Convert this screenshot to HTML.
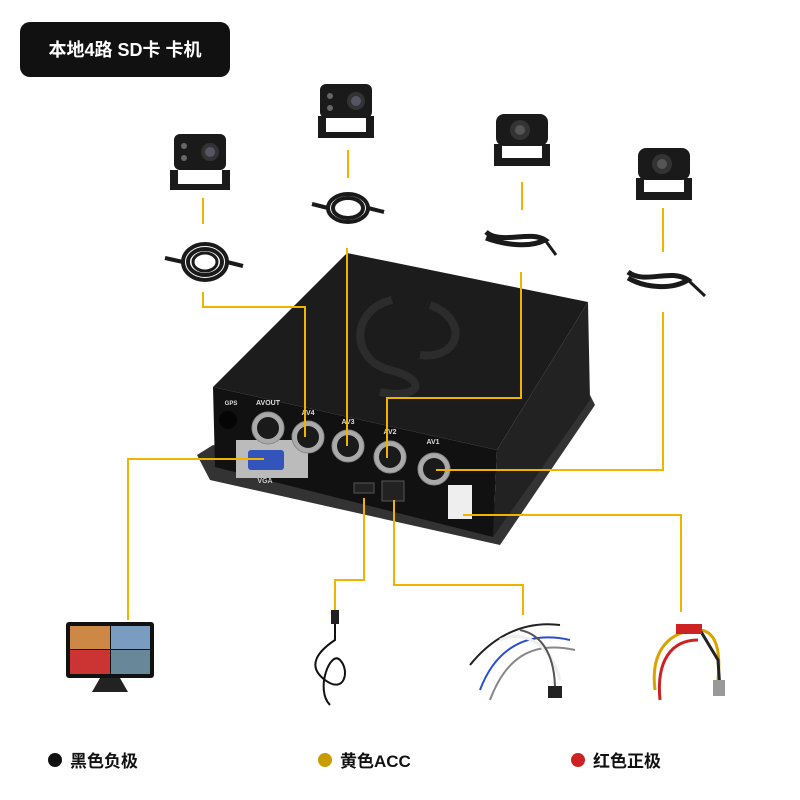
<!DOCTYPE html>
<html><head><meta charset="utf-8"><style>
html,body{margin:0;padding:0;background:#fff;}
svg{display:block;}
text{font-family:"Liberation Sans","Noto Sans CJK SC",sans-serif;}
</style></head><body>
<svg width="800" height="800" viewBox="0 0 800 800" xmlns="http://www.w3.org/2000/svg">
<rect width="800" height="800" fill="#fff"/>
<rect x="20" y="22" width="210" height="55" rx="10" fill="#111"/>
<text x="125" y="56" fill="#fff" font-size="18" font-weight="bold" text-anchor="middle">本地4路 SD卡 卡机</text>

<g fill="#1a1a1a">
 <g transform="translate(200,160)">
  <path d="M-30 30 L-30 10 L-22 10 L-22 24 L22 24 L22 10 L30 10 L30 30 Z"/>
  <rect x="-26" y="-26" width="52" height="36" rx="6"/>
  <circle cx="10" cy="-8" r="9" fill="#333"/><circle cx="10" cy="-8" r="5" fill="#556"/>
  <circle cx="-16" cy="-14" r="3" fill="#666"/><circle cx="-16" cy="-2" r="3" fill="#666"/>
 </g>
 <g transform="translate(346,108)">
  <path d="M-28 30 L-28 8 L-20 8 L-20 24 L20 24 L20 8 L28 8 L28 30 Z"/>
  <rect x="-26" y="-24" width="52" height="34" rx="6"/>
  <circle cx="10" cy="-7" r="9" fill="#333"/><circle cx="10" cy="-7" r="5" fill="#556"/>
  <circle cx="-16" cy="-12" r="3" fill="#666"/><circle cx="-16" cy="0" r="3" fill="#666"/>
 </g>
 <g transform="translate(522,138)">
  <path d="M-28 28 L-28 6 L-20 6 L-20 20 L20 20 L20 6 L28 6 L28 28 Z"/>
  <rect x="-26" y="-24" width="52" height="32" rx="8"/>
  <circle cx="-2" cy="-8" r="10" fill="#333"/><circle cx="-2" cy="-8" r="5" fill="#555"/>
 </g>
 <g transform="translate(664,172)">
  <path d="M-28 28 L-28 6 L-20 6 L-20 20 L20 20 L20 6 L28 6 L28 28 Z"/>
  <rect x="-26" y="-24" width="52" height="32" rx="8"/>
  <circle cx="-2" cy="-8" r="10" fill="#333"/><circle cx="-2" cy="-8" r="5" fill="#555"/>
 </g>
</g>

<g fill="none" stroke="#1a1a1a">
 <ellipse cx="205" cy="262" rx="22" ry="18" stroke-width="4"/>
 <ellipse cx="205" cy="262" rx="17" ry="13" stroke-width="4"/>
 <ellipse cx="205" cy="262" rx="12" ry="9" stroke-width="3"/>
 <line x1="165" y1="258" x2="183" y2="262" stroke-width="4"/>
 <line x1="227" y1="262" x2="243" y2="266" stroke-width="4"/>
 <ellipse cx="348" cy="208" rx="20" ry="14" stroke-width="4"/>
 <ellipse cx="348" cy="208" rx="15" ry="10" stroke-width="4"/>
 <line x1="312" y1="204" x2="328" y2="208" stroke-width="4"/>
 <line x1="368" y1="208" x2="384" y2="212" stroke-width="4"/>
 <path d="M486 232 C500 245,530 230,545 240 C530 248,505 245,486 238" stroke-width="5"/>
 <line x1="545" y1="240" x2="556" y2="255" stroke-width="3"/>
 <path d="M628 272 C645 285,670 268,688 280 C672 290,645 288,628 278" stroke-width="5"/>
 <line x1="688" y1="280" x2="705" y2="296" stroke-width="3"/>
</g>

<polygon points="197,455 213,445 493,505 590,395 595,405 500,545 210,480" fill="#333"/>
<polygon points="347,253 588,302 497,450 213,387" fill="#1c1c1c"/>
<polygon points="497,450 588,302 590,400 493,537" fill="#222"/>
<polygon points="213,387 497,450 493,537 215,467" fill="#111"/>
<path d="M392 300 C350 310,350 360,390 370 C430 380,420 400,380 392" stroke="#2c2c2c" stroke-width="8" fill="none"/>
<path d="M430 305 C470 320,460 360,420 355" stroke="#2c2c2c" stroke-width="8" fill="none"/>
<rect x="236" y="440" width="72" height="38" fill="#bbb"/>
<rect x="248" y="450" width="36" height="20" rx="3" fill="#3355bb"/>
<text x="265" y="483" fill="#ccc" font-size="7" font-weight="bold" text-anchor="middle">VGA</text>
<text x="268" y="405" fill="#ddd" font-size="7" font-weight="bold" text-anchor="middle">AVOUT</text>
<text x="308" y="415" fill="#ddd" font-size="7" font-weight="bold" text-anchor="middle">AV4</text>
<text x="348" y="424" fill="#ddd" font-size="7" font-weight="bold" text-anchor="middle">AV3</text>
<text x="390" y="434" fill="#ddd" font-size="7" font-weight="bold" text-anchor="middle">AV2</text>
<text x="433" y="444" fill="#ddd" font-size="7" font-weight="bold" text-anchor="middle">AV1</text>
<text x="231" y="405" fill="#ddd" font-size="6" font-weight="bold" text-anchor="middle">GPS</text>
<circle cx="228" cy="420" r="9" fill="#050505"/>
<g fill="#aaa" stroke="#888" stroke-width="1">
 <circle cx="268" cy="428" r="16"/><circle cx="308" cy="437" r="16"/>
 <circle cx="348" cy="446" r="16"/><circle cx="390" cy="457" r="16"/><circle cx="434" cy="469" r="16"/>
</g>
<g fill="#1a1a1a">
 <circle cx="268" cy="428" r="11"/><circle cx="308" cy="437" r="11"/>
 <circle cx="348" cy="446" r="11"/><circle cx="390" cy="457" r="11"/><circle cx="434" cy="469" r="11"/>
</g>
<rect x="354" y="483" width="20" height="10" fill="#222" stroke="#555"/>
<rect x="382" y="481" width="22" height="20" fill="#222" stroke="#555"/>
<rect x="448" y="485" width="24" height="34" fill="#eee"/>

<g stroke="#f0b400" stroke-width="2" fill="none">
 <line x1="203" y1="198" x2="203" y2="224"/>
 <polyline points="203,292 203,307 305,307 305,437"/>
 <line x1="348" y1="150" x2="348" y2="178"/>
 <line x1="347" y1="248" x2="347" y2="446"/>
 <line x1="522" y1="182" x2="522" y2="210"/>
 <polyline points="521,272 521,398 387,398 387,458"/>
 <line x1="663" y1="208" x2="663" y2="252"/>
 <polyline points="663,312 663,470 436,470"/>
 <polyline points="264,459 128,459 128,620"/>
 <polyline points="364,498 364,580 335,580 335,612"/>
 <polyline points="394,500 394,585 523,585 523,615"/>
 <polyline points="463,515 681,515 681,612"/>
</g>

<rect x="66" y="622" width="88" height="56" rx="3" fill="#111"/>
<rect x="70" y="626" width="40" height="23" fill="#c84"/>
<rect x="111" y="626" width="39" height="23" fill="#7a9cc0"/>
<rect x="70" y="650" width="40" height="24" fill="#c33"/>
<rect x="111" y="650" width="39" height="24" fill="#689"/>
<path d="M100 678 L92 692 L128 692 L120 678 Z" fill="#222"/>

<path d="M335 612 L335 640 C320 650,305 665,325 680 C345 695,350 670,340 660 C330 650,315 690,330 705" stroke="#111" stroke-width="2" fill="none"/>
<rect x="331" y="610" width="8" height="14" fill="#222"/>

<g fill="none" stroke-width="2">
 <path d="M470 665 C490 640,520 620,560 625" stroke="#222"/>
 <path d="M480 690 C495 650,525 630,570 640" stroke="#2a4dd0"/>
 <path d="M490 700 C505 660,530 640,575 650" stroke="#888"/>
 <path d="M500 640 C520 630,550 640,560 680" stroke="#eee" stroke-width="3"/>
 <path d="M520 630 C545 635,555 660,555 690" stroke="#555"/>
</g>
<rect x="548" y="686" width="14" height="12" fill="#222"/>

<g fill="none" stroke-width="3">
 <path d="M655 690 C650 650,670 630,700 630 C720 632,720 660,718 680" stroke="#d9a400"/>
 <path d="M660 700 C656 660,672 640,698 640" stroke="#cc2222"/>
 <path d="M700 630 L718 660 L720 690" stroke="#222"/>
</g>
<rect x="676" y="624" width="26" height="10" fill="#cc2222"/>
<rect x="713" y="680" width="12" height="16" fill="#999"/>

<circle cx="55" cy="760" r="7" fill="#111"/>
<text x="70" y="767" font-size="17" font-weight="bold" fill="#111">黑色负极</text>
<circle cx="325" cy="760" r="7" fill="#c89b00"/>
<text x="340" y="767" font-size="17" font-weight="bold" fill="#111">黄色ACC</text>
<circle cx="578" cy="760" r="7" fill="#cc2222"/>
<text x="593" y="767" font-size="17" font-weight="bold" fill="#111">红色正极</text>
</svg>
</body></html>
